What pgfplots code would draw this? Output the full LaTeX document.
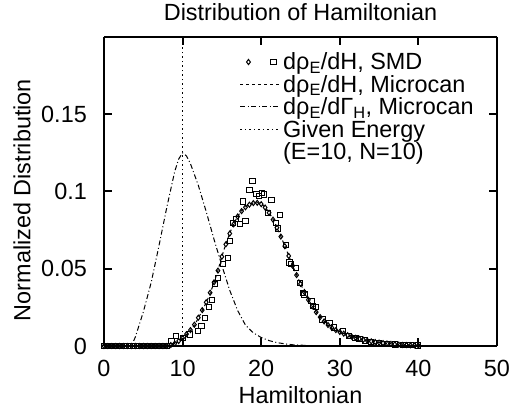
\documentclass[border=0pt]{standalone}
\usepackage{fontspec}
\setmainfont{Liberation Sans}
\usepackage{pgfplots}
\usepackage{pgfplotstable}
\pgfplotsset{compat=1.18}

\pgfplotstableread{
H y
0 0
8 0
8.5 0.0005
9 0.0015
9.5 0.003
10 0.005
10.5 0.0075
11 0.010
11.5 0.0135
12 0.018
12.5 0.023
13 0.028
13.5 0.034
14 0.041
14.5 0.049
15 0.058
15.5 0.066
16 0.073
16.5 0.079
17 0.084
17.5 0.0875
18 0.090
18.5 0.0917
19 0.0926
19.5 0.0928
20 0.092
20.5 0.0898
21 0.0865
21.5 0.082
22 0.0768
22.5 0.071
23 0.0648
23.5 0.0585
24 0.052
24.5 0.046
25 0.0403
25.5 0.035
26 0.030
26.5 0.0258
27 0.022
27.5 0.0188
28 0.016
28.5 0.0137
29 0.0118
29.5 0.0104
30 0.0092
30.5 0.0081
31 0.0071
31.5 0.0062
32 0.0054
32.5 0.0047
33 0.0041
33.5 0.0036
34 0.0031
34.5 0.0027
35 0.0023
36 0.0017
37 0.0012
38 0.0008
39 0.0005
40 0.0003
}\microcan

\pgfplotstableread{
H y
0 0
0.5 0
1 0
1.5 0
2 0
2.5 0
3 0
3.5 0
4 0
4.5 0
5 0
5.5 0
6 0
6.5 0
7 0
7.5 0
8 0
8.5 0.0006
9 0.0016
9.5 0.0032
10 0.0052
10.5 0.0077
11 0.0103
11.5 0.0138
12 0.0183
12.5 0.0232
13 0.0283
13.5 0.0345
14 0.0412
14.5 0.0488
15 0.0578
15.5 0.0658
16 0.0728
16.5 0.0788
17 0.0838
17.5 0.0873
18 0.0898
18.5 0.0915
19 0.0925
19.5 0.0927
20 0.0918
20.5 0.0896
21 0.0862
21.5 0.0818
22 0.0766
22.5 0.0708
23 0.0646
23.5 0.0583
24 0.0519
24.5 0.0459
25 0.0402
25.5 0.0349
26 0.0299
26.5 0.0257
27 0.0219
27.5 0.0187
28 0.0159
28.5 0.0136
29 0.0117
29.5 0.0103
30 0.0091
30.5 0.0080
31 0.0070
31.5 0.0061
32 0.0053
32.5 0.0046
33 0.0040
33.5 0.0035
34 0.0030
34.5 0.0026
35 0.0022
35.5 0.0019
36 0.0016
36.5 0.0014
37 0.0011
37.5 0.0009
38 0.0007
38.5 0.0006
39 0.0005
39.5 0.0004
40 0.0003
}\smddiam

\pgfplotstableread{
H y
0 0
0.5 0
1 0
1.5 0
2 0
2.5 0
3 0
3.5 0
4 0
4.5 0
5 0
5.5 0
6 0
6.5 0
7 0
7.5 0
8 0
8.6 0.003
9.2 0.0065
10.1 0.0054
10.9 0.0075
12.0 0.0097
12.4 0.013
12.8 0.018
13.4 0.025
13.7 0.030
14.1 0.040
14.5 0.044
15.1 0.053
15.8 0.057
16.0 0.068
16.4 0.0796
16.8 0.082
17.3 0.079
17.7 0.0935
18.0 0.081
18.5 0.101
18.9 0.107
19.4 0.0983
19.7 0.097
20.1 0.099
20.4 0.098
20.9 0.086
21.3 0.0946
21.9 0.0796
22.1 0.076
22.4 0.085
23.2 0.0656
23.6 0.054
23.8 0.053
24.4 0.0505
24.9 0.041
25.3 0.0344
25.5 0.0333
26.4 0.029
26.6 0.026
27.0 0.025
27.8 0.0172
28.7 0.015
29.3 0.012
30.4 0.0097
31.2 0.0065
32.0 0.005
32.5 0.0043
33.2 0.0035
34.0 0.0025
35.0 0.002
36.0 0.0015
37.0 0.001
38.0 0.0007
39.0 0.0005
40.0 0.0003
}\smdsq

\pgfplotstableread{
H y
0 0
3.5 0
4 0.006
5 0.022
6 0.041
7 0.065
8 0.090
9 0.113
9.5 0.121
10 0.125
10.5 0.123
11 0.118
12 0.104
13 0.087
14 0.069
15 0.052
16 0.036
17 0.023
18 0.0135
19 0.0085
20 0.0055
21 0.0035
22 0.0022
23 0.0014
24 0.0008
26 0.0003
28 0.0001
30 0
}\gammaH

\begin{document}
\begin{tikzpicture}[font=\fontsize{23.5}{26}\selectfont]
\begin{axis}[
  name=ax,
  scale only axis,
  width=393bp, height=309bp,
  xmin=0, xmax=50, ymin=0, ymax=0.2,
  xtick={0,10,20,30,40,50},
  xticklabels={0,10,20,30,40,50},
  ytick={0,0.05,0.1,0.15},
  yticklabels={0,0.05,0.1,0.15},
  tick align=inside,
  major tick length=8bp,
  separate axis lines,
  every outer x axis line/.append style={line width=2bp},
  every outer y axis line/.append style={line width=2bp},
  tick style={line width=2bp, black},
  xticklabel style={anchor=center, yshift=-22bp, font=\fontsize{23.5}{26}\selectfont},
  yticklabel style={anchor=east, inner sep=0pt, xshift=-17bp, font=\fontsize{23.5}{26}\selectfont},
  title style={at={(axis description cs:0.5,1.062)}, anchor=center},
  xlabel style={at={(axis description cs:0.5,-0.159)}, anchor=center},
  ylabel style={at={(axis description cs:-0.2087,0.472)}, anchor=center},
  title={Distribution of Hamiltonian},
  xlabel={Hamiltonian},
  ylabel={Normalized Distribution},
  legend cell align=left,
  legend style={draw=none, fill=none, at={(rel axis cs:0.345,0.956)}, anchor=north west,
    row sep=0bp, inner sep=0pt, font=\fontsize{23.5}{26}\selectfont},
  legend image code/.code={\draw[#1] (0bp,0bp) -- (40bp,0bp);},
]
\addplot[black, only marks, mark=diamond, mark size=2.5bp, mark options={line width=1bp},
  legend image code/.code={
    \draw[mark=diamond, mark size=2.6bp, line width=1.5bp] plot coordinates {(8bp,0bp)};
    \draw[mark=square, mark size=2.6bp, line width=1.2bp] plot coordinates {(33bp,0bp)};
  }] table[x=H,y=y] {\smddiam};
\addlegendentry{dρ\textsubscript{E}/dH, SMD}
\addplot[black, only marks, mark=square, mark size=2.6bp, mark options={line width=1bp}, forget plot] table[x=H,y=y] {\smdsq};
\addplot[black, line width=1bp, dash pattern=on 3bp off 3bp] table[x=H,y=y] {\microcan};
\addlegendentry{dρ\textsubscript{E}/dH, Microcan}
\addplot[black, line width=1bp, dash pattern=on 5bp off 2.5bp on 1bp off 2.5bp] table[x=H,y=y] {\gammaH};
\addlegendentry{dρ\textsubscript{E}/dΓ\textsubscript{H}, Microcan}
\addplot[black, line width=1.4bp, dash pattern=on 1.5bp off 3bp] coordinates {(10,0) (10,0.2)};
\addlegendentry{Given Energy}
\addlegendimage{empty legend}
\addlegendentry{(E=10, N=10)}
\end{axis}
\pgfresetboundingbox
\path ([xshift=-104bp,yshift=-66bp]ax.south west) rectangle ([xshift=14bp,yshift=37bp]ax.north east);
\end{tikzpicture}
\end{document}
